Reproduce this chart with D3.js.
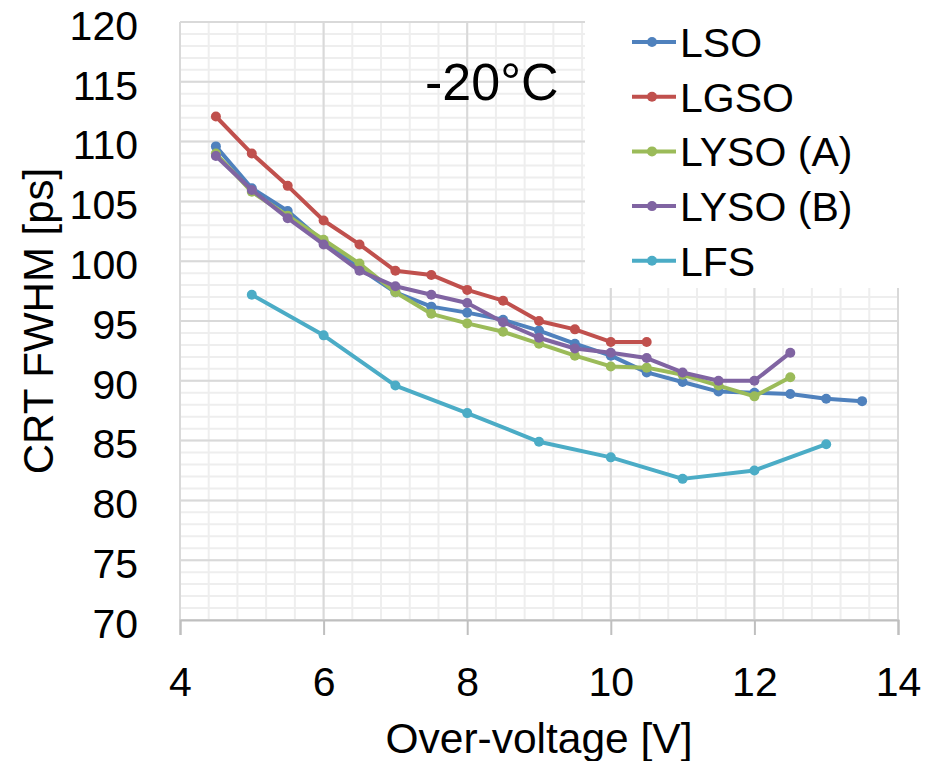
<!DOCTYPE html>
<html>
<head>
<meta charset="utf-8">
<script src="https://cdn.jsdelivr.net/npm/d3@7"></script>
<style>
  body { margin: 0; background: #fff; }
  text { font-family: "Liberation Sans", Arial, Helvetica, sans-serif; fill: #000; }
</style>
</head>
<body>
<div id="chart"></div>
<script>
// series names + colours (Excel 2007 palette)
var seriesNames = ["LSO", "LGSO", "LYSO (A)", "LYSO (B)", "LFS"];
var seriesColors = ["#4f81bd", "#c0504d", "#9bbb59", "#8064a2", "#4bacc6"];

// over-voltage [V]
var xLSO = [4.5, 5, 5.5, 6, 6.5, 7, 7.5, 8, 8.5, 9, 9.5, 10, 10.5, 11, 11.5, 12, 12.5, 13, 13.5];
var xLGSO = [4.5, 5, 5.5, 6, 6.5, 7, 7.5, 8, 8.5, 9, 9.5, 10, 10.5];
var xLYSO = [4.5, 5, 5.5, 6, 6.5, 7, 7.5, 8, 8.5, 9, 9.5, 10, 10.5, 11, 11.5, 12, 12.5];
var xLFS = [5, 6, 7, 8, 9, 10, 11, 12, 13];

// CRT FWHM [ps]
var crtLSO = [109.6, 106.1, 104.2, 101.6, 99.4, 97.4, 96.2, 95.7, 95.1, 94.2, 93.1, 92.1, 90.7, 89.9, 89.1, 89.0, 88.9, 88.5, 88.3];
var crtLGSO = [112.1, 109.0, 106.3, 103.4, 101.4, 99.2, 98.85, 97.6, 96.7, 95.0, 94.3, 93.25, 93.25];
var crtLYSOA = [109.0, 105.8, 103.8, 101.8, 99.8, 97.4, 95.6, 94.8, 94.1, 93.1, 92.1, 91.2, 91.1, 90.5, 89.6, 88.7, 90.3];
var crtLYSOB = [108.8, 105.95, 103.6, 101.4, 99.2, 97.9, 97.2, 96.5, 94.9, 93.6, 92.7, 92.35, 91.9, 90.7, 90.0, 90.0, 92.35];
var crtLFS = [97.2, 93.8, 89.6, 87.3, 84.9, 83.6, 81.8, 82.5, 84.7];

var xTicks = [4, 6, 8, 10, 12, 14];
var yTicks = [70, 75, 80, 85, 90, 95, 100, 105, 110, 115, 120];

var width = 927, height = 761;
var plotLeft = 180, plotRight = 898, plotTop = 22, plotBottom = 620;

var svg = d3.select("#chart").append("svg")
    .attr("width", width)
    .attr("height", height);

var x = d3.scaleLinear().domain([4, 14]).range([plotLeft, plotRight]);
var y = d3.scaleLinear().domain([70, 120]).range([plotBottom, plotTop]);

// minor grid
var gMinor = svg.append("g");
gMinor.selectAll("line.mx")
    .data(d3.range(4, 14.01, 0.4))
    .enter().append("line")
    .attr("x1", function (d) { return x(d); })
    .attr("x2", function (d) { return x(d); })
    .attr("y1", plotTop).attr("y2", plotBottom)
    .attr("stroke", "#eeeeee").attr("stroke-width", 2);
gMinor.selectAll("line.my")
    .data(d3.range(70, 120.01, 1))
    .enter().append("line")
    .attr("y1", function (d) { return y(d); })
    .attr("y2", function (d) { return y(d); })
    .attr("x1", plotLeft).attr("x2", plotRight)
    .attr("stroke", "#eeeeee").attr("stroke-width", 2);

// major grid
var gMajor = svg.append("g");
gMajor.selectAll("line.gx")
    .data(xTicks)
    .enter().append("line")
    .attr("x1", function (d) { return x(d); })
    .attr("x2", function (d) { return x(d); })
    .attr("y1", plotTop).attr("y2", plotBottom)
    .attr("stroke", "#d9d9d9").attr("stroke-width", 2);
gMajor.selectAll("line.gy")
    .data(yTicks)
    .enter().append("line")
    .attr("y1", function (d) { return y(d); })
    .attr("y2", function (d) { return y(d); })
    .attr("x1", plotLeft).attr("x2", plotRight)
    .attr("stroke", "#d9d9d9").attr("stroke-width", 2);

// x axis
var xAxis = svg.append("g")
    .attr("transform", "translate(0," + plotBottom + ")")
    .call(d3.axisBottom(x).tickValues(xTicks).tickSize(15).tickPadding(32).tickFormat(d3.format("d")));
xAxis.select(".domain").attr("stroke", "#bfbfbf").attr("stroke-width", 2);
xAxis.selectAll(".tick line").attr("stroke", "#bfbfbf").attr("stroke-width", 2);
xAxis.selectAll("text").style("font-size", "41px").attr("fill", "#000");

// y axis (labels only)
var yAxis = svg.append("g")
    .attr("transform", "translate(" + plotLeft + ",0)")
    .call(d3.axisLeft(y).tickValues(yTicks).tickSize(0).tickPadding(42));
yAxis.select(".domain").remove();
yAxis.selectAll("text").style("font-size", "41px").attr("dy", "0.42em").attr("fill", "#000");

// legend background covers the grid
svg.append("rect")
    .attr("x", 585).attr("y", 0)
    .attr("width", 330).attr("height", 288)
    .attr("fill", "#fff");

var seriesX = [xLSO, xLGSO, xLYSO, xLYSO, xLFS];
var seriesY = [crtLSO, crtLGSO, crtLYSOA, crtLYSOB, crtLFS];

var line = d3.line()
    .x(function (d) { return x(d[0]); })
    .y(function (d) { return y(d[1]); });

seriesNames.forEach(function (name, i) {
    var pts = seriesX[i].map(function (v, j) { return [v, seriesY[i][j]]; });
    var g = svg.append("g");
    g.append("path")
        .datum(pts)
        .attr("d", line)
        .attr("fill", "none")
        .attr("stroke", seriesColors[i])
        .attr("stroke-width", 4)
        .attr("stroke-linejoin", "round");
    g.selectAll("circle")
        .data(pts)
        .enter().append("circle")
        .attr("cx", function (d) { return x(d[0]); })
        .attr("cy", function (d) { return y(d[1]); })
        .attr("r", 5)
        .attr("fill", seriesColors[i]);
});

// legend
var legend = svg.append("g");
seriesNames.forEach(function (name, i) {
    var ly = 42 + i * 54.7;
    legend.append("line")
        .attr("x1", 632).attr("x2", 676)
        .attr("y1", ly).attr("y2", ly)
        .attr("stroke", seriesColors[i]).attr("stroke-width", 4);
    legend.append("circle")
        .attr("cx", 652).attr("cy", ly).attr("r", 5)
        .attr("fill", seriesColors[i]);
    legend.append("text")
        .attr("x", 680).attr("y", ly + 15)
        .style("font-size", "41px")
        .text(name);
});

// temperature label
svg.append("text")
    .attr("x", 425).attr("y", 100)
    .style("font-size", "52px")
    .text("-20°C");

// axis titles
svg.append("text")
    .attr("x", (plotLeft + plotRight) / 2).attr("y", 753)
    .attr("text-anchor", "middle")
    .style("font-size", "42.5px")
    .text("Over-voltage [V]");

svg.append("text")
    .attr("transform", "translate(53," + (plotTop + plotBottom) / 2 + ") rotate(-90)")
    .attr("text-anchor", "middle")
    .style("font-size", "42px")
    .text("CRT FWHM [ps]");
</script>
</body>
</html>
